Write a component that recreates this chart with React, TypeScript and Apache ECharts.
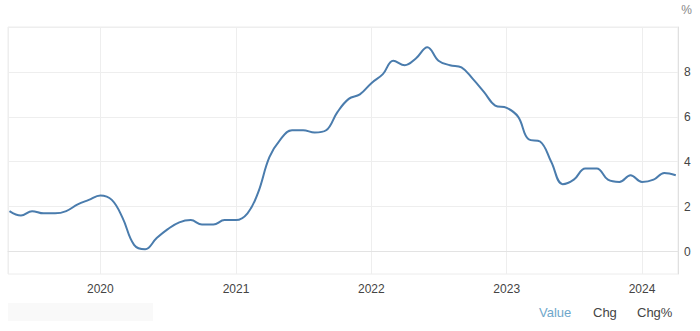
import React, { useEffect, useRef } from "react";
import * as echarts from "echarts";

const months: string[] = [
  "2019-05", "2019-06", "2019-07", "2019-08", "2019-09", "2019-10", "2019-11", "2019-12",
  "2020-01", "2020-02", "2020-03", "2020-04", "2020-05", "2020-06", "2020-07", "2020-08", "2020-09", "2020-10", "2020-11", "2020-12",
  "2021-01", "2021-02", "2021-03", "2021-04", "2021-05", "2021-06", "2021-07", "2021-08", "2021-09", "2021-10", "2021-11", "2021-12",
  "2022-01", "2022-02", "2022-03", "2022-04", "2022-05", "2022-06", "2022-07", "2022-08", "2022-09", "2022-10", "2022-11", "2022-12",
  "2023-01", "2023-02", "2023-03", "2023-04", "2023-05", "2023-06", "2023-07", "2023-08", "2023-09", "2023-10", "2023-11", "2023-12",
  "2024-01", "2024-02", "2024-03", "2024-04",
];

const values: number[] = [
  1.8, 1.6, 1.8, 1.7, 1.7, 1.8, 2.1, 2.3,
  2.5, 2.3, 1.5, 0.3, 0.1, 0.6, 1.0, 1.3, 1.4, 1.2, 1.2, 1.4,
  1.4, 1.7, 2.6, 4.2, 5.0, 5.4, 5.4, 5.3, 5.4, 6.2, 6.8, 7.0,
  7.5, 7.9, 8.5, 8.3, 8.6, 9.1, 8.5, 8.3, 8.2, 7.7, 7.1, 6.5,
  6.4, 6.0, 5.0, 4.9, 4.0, 3.0, 3.2, 3.7, 3.7, 3.2, 3.1, 3.4,
  3.1, 3.2, 3.5, 3.4,
];

const yTickLabels: number[] = [0, 2, 4, 6, 8];
const legendItems: string[] = ["Value", "Chg", "Chg%"];
const unitLabel = "%";

const toTime = (m: string) => {
  const [y, mo] = m.split("-").map(Number);
  return Date.UTC(y, mo - 1, 1);
};

export default function App() {
  const ref = useRef<HTMLDivElement>(null);
  useEffect(() => {
    if (!ref.current) return;
    const chart = echarts.init(ref.current, undefined, { renderer: "svg" });
    const font = "Liberation Sans, Arial, sans-serif";
    chart.setOption({
      animation: false,
      useUTC: true,
      backgroundColor: "#ffffff",
      textStyle: { fontFamily: font },
      grid: {
        left: 8,
        right: 22,
        top: 27,
        bottom: 57,
        show: true,
        borderColor: "#ececec",
        borderWidth: 1,
      },
      xAxis: {
        type: "time",
        min: Date.UTC(2019, 3, 27),
        max: Date.UTC(2024, 3, 7),
        minInterval: 365 * 24 * 3600 * 1000,
        axisLine: { show: true, lineStyle: { color: "#e3e3e3" } },
        axisTick: { show: false },
        axisLabel: {
          color: "#444",
          fontSize: 12,
          fontFamily: font,
          margin: 9,
          formatter: (v: number) => String(new Date(v).getUTCFullYear()),
          hideOverlap: true,
        },
        splitLine: { show: true, lineStyle: { color: "#eeeeee", width: 1 } },
      },
      yAxis: {
        type: "value",
        position: "right",
        min: -1,
        max: 10,
        interval: 1,
        axisLine: { show: true, lineStyle: { color: "#e0e0e0" } },
        axisTick: { show: false },
        axisLabel: {
          color: "#444",
          fontSize: 12,
          fontFamily: font,
          margin: 6,
          formatter: (v: number) => (yTickLabels.includes(v) ? String(v) : ""),
        },
        splitLine: {
          show: true,
          lineStyle: { color: ["transparent", "#eeeeee"], width: 1 },
        },
      },
      series: [
        {
          type: "line",
          data: months.map((m, i) => [toTime(m), values[i]]),
          smooth: 0.4,
          showSymbol: false,
          lineStyle: { color: "#4a7cad", width: 2 },
          clip: true,
        },
      ],
      graphic: [
        {
          type: "text",
          right: 8,
          top: 4,
          style: { text: unitLabel, fill: "#888", fontSize: 12, fontFamily: font },
        },
        {
          type: "rect",
          left: 8,
          top: 303,
          shape: { width: 145, height: 18 },
          style: { fill: "#f9f9f9" },
        },
        {
          type: "text",
          left: 539,
          top: 306,
          style: { text: legendItems[0], fill: "#6fa7cb", fontSize: 13, fontFamily: font },
        },
        {
          type: "text",
          left: 593,
          top: 306,
          style: { text: legendItems[1], fill: "#444", fontSize: 13, fontFamily: font },
        },
        {
          type: "text",
          left: 637,
          top: 306,
          style: { text: legendItems[2], fill: "#444", fontSize: 13, fontFamily: font },
        },
      ],
    });
    return () => chart.dispose();
  }, []);
  return (
    <div
      ref={ref}
      style={{ position: "fixed", left: 0, top: 0, width: 700, height: 331 }}
    />
  );
}
